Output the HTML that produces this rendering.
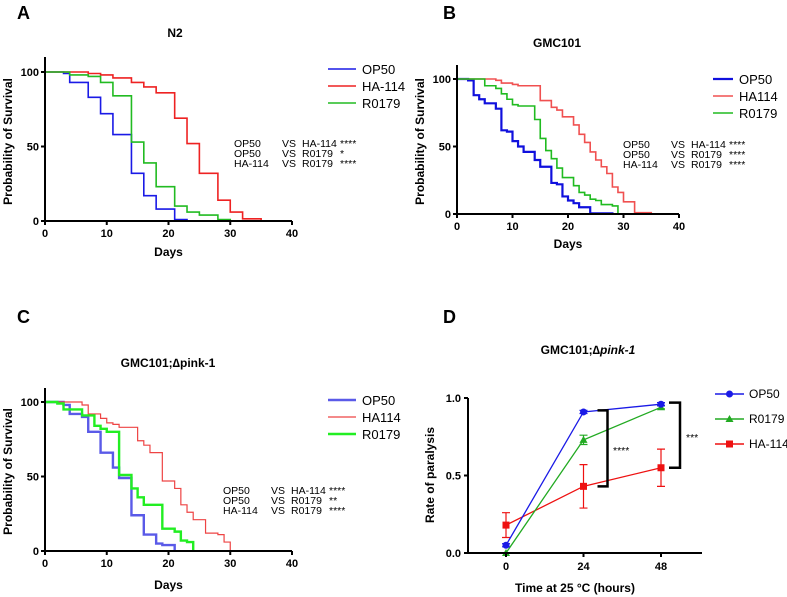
<!DOCTYPE html>
<html><head><meta charset="utf-8">
<style>
html,body{margin:0;padding:0;background:#fff;}
svg{display:block;font-family:"Liberation Sans",Arial,sans-serif;}
.tick{font-size:11px;font-weight:bold;}
.ttl{font-size:12px;font-weight:bold;}
.lbl{font-size:18px;font-weight:bold;}
.leg{font-size:13px;}
.legd{font-size:12px;}
.st{font-size:10.5px;}
</style></head>
<body>
<svg id="fig" width="787" height="597" viewBox="0 0 787 597"></svg>
<script>
// Panel A (N2)
const aOP50Days=[0,3,4,7,9,11,14,16,18,21,23];
const aOP50Surv=[100,99,93,83,72,58,32,17,8,1,0];
const aHADays=[0,7,9,11,14,16,18,21,23,25,28,30,32,35];
const aHASurv=[100,99,98,96,93,90,86,69,52,32,14,6,1.5,0];
const aRDays=[0,4,7,9,11,14,16,18,21,23,25,28,30];
const aRSurv=[100,98,97,93,84,53,39,23,10,6,4,1,0];
// Panel B (GMC101)
const bOP50Days=[0,2,3,4,5,7,8,9,10,11,12,14,15,17,18,19,20,21,22,24,28];
const bOP50Surv=[100,99,88,85,82,78,62,61,54,50,46,40,35,23,22,13,10,8,5,0.5,0];
const bHADays=[0,7,8,10,11,15,17,18,19,21,22,23,24,25,26,27,28,29,30,32,35];
const bHASurv=[100,99,97,96,95,84,79,77,72,66,59,53,46,40,35,30,20,16,9,1,0];
const bRDays=[0,5,7,8,9,10,11,14,15,16,17,18,19,21,22,23,24,25,26,28,29];
const bRSurv=[100,95,93,89,85,81,80,70,56,47,41,34,27,21,16,14,11,10,7,6,0];
// Panel C (GMC101;Δpink-1)
const cOP50Days=[0,3,4,6,7,9,11,12,14,16,18,19,21];
const cOP50Surv=[100,98,92,90,80,66,56,49,24,11,5,4,0];
const cHADays=[0,6,7,9,10,11,12,15,16,17,19,21,22,23,24,26,28,29,30];
const cHASurv=[100,98,92,89,86,85,83,74,71,66,47,42,31,26,21,12,11,6,0];
const cRDays=[0,2,3,6,8,9,10,12,14,15,16,19,21,22,23,24];
const cRSurv=[100,99,95,91,84,82,80,51,42,36,31,15,13,7,6,0];
const survTicksX=[0,10,20,30,40];
const survTicksY=[0,50,100];
// Panel D (paralysis)
const dTimes=[0,24,48];
const dOP50=[0.05,0.91,0.96];
const dOP50Err=[0.01,0.01,0.01];
const dR0179=[0.0,0.73,0.94];
const dR0179Err=[0,0.03,0.01];
const dHA=[0.18,0.43,0.55];
const dHAErr=[0.08,0.14,0.12];
const dTicksY=[0,0.5,1.0];
const dTickLabelsY=["0.0","0.5","1.0"];

const NS="http://www.w3.org/2000/svg";
const svg=document.getElementById('fig');
function el(tag,attrs,parent,text){const e=document.createElementNS(NS,tag);for(const k in attrs)e.setAttribute(k,attrs[k]);if(text!==undefined)e.textContent=text;(parent||svg).appendChild(e);return e;}

function survPanel(p){
  const g=el('g',{});
  
  
  const sx=d=>p.x0+(d/40)*(p.x40-p.x0);
  const sy=v=>p.y0+(v/100)*(p.y100-p.y0);
  const t1=el('text',{x:p.letterX,y:p.letterY,class:'lbl'},g,p.letter);
  
  const t2=el('text',{x:p.titleX,y:p.titleY,class:'ttl','text-anchor':'middle'},g,p.title);
  
  p.series.forEach(s=>{
    let d='M'+sx(0)+','+sy(s.surv[0]);
    for(let i=1;i<s.days.length;i++){d+=' H'+sx(s.days[i])+' V'+sy(s.surv[i]);}
    const path=el('path',{d:d,fill:'none',stroke:s.color,'stroke-width':s.w||1.6},g);
    
    
  });
  const ax=el('path',{d:`M${p.x0},${p.yTop} V${p.y0} H${p.x40}`,fill:'none',stroke:'#000','stroke-width':2},g);
  
  survTicksX.forEach(t=>{
    el('line',{x1:sx(t),x2:sx(t),y1:p.y0,y2:p.y0+4,stroke:'#000','stroke-width':2},g);
    const tt=el('text',{x:sx(t),y:p.y0+16,class:'tick','text-anchor':'middle'},g,String(t));
    
  });
  survTicksY.forEach(t=>{
    el('line',{x1:p.x0-4,x2:p.x0,y1:sy(t),y2:sy(t),stroke:'#000','stroke-width':2},g);
    const tt=el('text',{x:p.x0-6,y:sy(t)+4,class:'tick','text-anchor':'end'},g,String(t));
    
  });
  const xl=el('text',{x:(p.x0+p.x40)/2,y:p.daysY,class:'ttl','text-anchor':'middle'},g,'Days');
  
  const cy=(p.y0+p.y100)/2-5;
  const yl=el('text',{x:p.ytX,y:cy,class:'ttl','text-anchor':'middle',transform:`rotate(-90 ${p.ytX} ${cy})`},g,'Probability of Survival');
  
  p.series.forEach((s,i)=>{
    const ly=p.legY+i*p.legDy;
    const lg=el('g',{},g);
    
    
    el('line',{x1:p.legX,x2:p.legX+p.legW,y1:ly,y2:ly,stroke:s.color,'stroke-width':s.w||1.6},lg);
    el('text',{x:p.legX+p.legW+6,y:ly+5,class:'leg'},lg,s.label);
  });
  const sg=el('g',{},g);
  
  p.stats.forEach((r,i)=>{
    const y=p.stY+i*10;
    el('text',{x:p.stX,y:y,class:'st'},sg,r[0]);
    el('text',{x:p.stX+48,y:y,class:'st'},sg,'VS');
    el('text',{x:p.stX+68,y:y,class:'st'},sg,r[1]);
    el('text',{x:p.stX+106,y:y,class:'st'},sg,r[2]);
  });
}

survPanel({id:'a',letter:'A',letterX:17,letterY:19,title:'N2',titleX:175,titleY:37,
  x0:45,x40:292,y0:221,y100:72,yTop:57,daysY:256,ytX:12,
  legX:328,legW:28,legY:69,legDy:17,stX:234,stY:147,
  stats:[['OP50','HA-114','****'],['OP50','R0179','*'],['HA-114','R0179','****']],
  series:[{name:'OP50',label:'OP50',color:'#1a1ae6',days:aOP50Days,surv:aOP50Surv},
          {name:'HA114',label:' HA-114',color:'#ee2222',days:aHADays,surv:aHASurv},
          {name:'R0179',label:' R0179',color:'#22bb22',days:aRDays,surv:aRSurv}]});
survPanel({id:'b',letter:'B',letterX:443,letterY:19,title:'GMC101',titleX:557,titleY:47,
  x0:457,x40:679,y0:214,y100:79,yTop:65,daysY:248,ytX:424,
  legX:713,legW:20,legY:79,legDy:17,stX:623,stY:148,
  stats:[['OP50','HA-114','****'],['OP50','R0179','****'],['HA-114','R0179','****']],
  series:[{name:'OP50',label:'OP50',color:'#1010dd',w:2.2,days:bOP50Days,surv:bOP50Surv},
          {name:'HA114',label:'HA114',color:'#f05050',days:bHADays,surv:bHASurv},
          {name:'R0179',label:'R0179',color:'#20bb20',days:bRDays,surv:bRSurv}]});
survPanel({id:'c',letter:'C',letterX:17,letterY:323,title:'GMC101;\u2206pink-1',titleX:168,titleY:367,
  x0:45,x40:292,y0:551,y100:402,yTop:388,daysY:589,ytX:12,
  legX:328,legW:28,legY:400,legDy:17,stX:223,stY:494,
  stats:[['OP50','HA-114','****'],['OP50','R0179','**'],['HA-114','R0179','****']],
  series:[{name:'OP50',label:'OP50',color:'#5a5ae8',w:2.4,days:cOP50Days,surv:cOP50Surv},
          {name:'HA114',label:'HA114',color:'#ee4444',w:1.2,days:cHADays,surv:cHASurv},
          {name:'R0179',label:'R0179',color:'#22ee22',w:2.4,days:cRDays,surv:cRSurv}]});

// Panel D
(function(){
  const g=el('g',{});
  
  
  const X0=506,X48=661,Y0=553,Y1=398,AX=468,AXR=702;
  const sx=t=>X0+(t/48)*(X48-X0);
  const sy=v=>Y0+v*(Y1-Y0);
  const L=el('text',{x:443,y:323,class:'lbl'},g,'D');
  
  const T=el('text',{x:588,y:354,class:'ttl','text-anchor':'middle'},g);
  
  el('tspan',{},T,'GMC101;');
  el('tspan',{'font-style':'italic'},T,'\u2206pink-1');
  const series=[{name:'op50',color:'#1a1ae6',v:dOP50,e:dOP50Err,m:'circle'},
                {name:'r0179',color:'#22aa22',v:dR0179,e:dR0179Err,m:'tri'},
                {name:'ha-114',color:'#ee1111',v:dHA,e:dHAErr,m:'sq'}];
  function marker(m,x,y,c,parent){
    if(m==='circle')return el('circle',{cx:x,cy:y,r:3.5,fill:c},parent);
    if(m==='tri')return el('path',{d:`M${x},${y-4} L${x+4},${y+3} L${x-4},${y+3}Z`,fill:c},parent);
    return el('rect',{x:x-3.5,y:y-3.5,width:7,height:7,fill:c},parent);
  }
  [series[2],series[1],series[0]].forEach(s=>{
    const sg=el('g',{},g);
    
    
    let d='';
    dTimes.forEach((t,i)=>{d+=(i?' L':'M')+sx(t)+','+sy(s.v[i]);});
    el('path',{d:d,fill:'none',stroke:s.color,'stroke-width':1.3},sg);
    dTimes.forEach((t,i)=>{
      if(s.e[i]>0){
        const x=sx(t),ya=sy(s.v[i]+s.e[i]),yb=sy(Math.max(0,s.v[i]-s.e[i]));
        el('path',{d:`M${x},${ya} V${yb} M${x-4},${ya} H${x+4} M${x-4},${yb} H${x+4}`,stroke:s.color,'stroke-width':1.2,fill:'none'},sg);
      }
      const mk=marker(s.m,sx(t),sy(s.v[i]),s.color,sg);
      
      
    });
  });
  const ax=el('path',{d:`M${AX},${Y1} V${Y0} H${AXR}`,fill:'none',stroke:'#000','stroke-width':2},g);
  
  dTimes.forEach(t=>{
    el('line',{x1:sx(t),x2:sx(t),y1:Y0,y2:Y0+4,stroke:'#000','stroke-width':2},g);
    const tt=el('text',{x:sx(t),y:Y0+17,class:'tick','text-anchor':'middle'},g,String(t));
    
  });
  dTicksY.forEach((t,i)=>{
    el('line',{x1:AX-4,x2:AX,y1:sy(t),y2:sy(t),stroke:'#000','stroke-width':2},g);
    const tt=el('text',{x:AX-7,y:sy(t)+4,class:'tick','text-anchor':'end'},g,dTickLabelsY[i]);
    
  });
  const xl=el('text',{x:575,y:592,class:'ttl','text-anchor':'middle'},g,'Time at 25 \u00B0C (hours)');
  
  const yl=el('text',{x:434,y:475,class:'ttl','text-anchor':'middle',transform:'rotate(-90 434 475)'},g,'Rate of paralysis');
  
  const b1=el('path',{d:`M${sx(24)+14},${sy(dOP50[1]+0.01)} H${sx(24)+24} V${sy(dHA[1])} H${sx(24)+14}`,fill:'none',stroke:'#000','stroke-width':2.5},g);
  
  const s1=el('text',{x:613,y:454,class:'st'},g,'****');
  
  const b2=el('path',{d:`M${sx(48)+8},${sy(dOP50[2]+0.01)} H${sx(48)+19} V${sy(dHA[2])} H${sx(48)+8}`,fill:'none',stroke:'#000','stroke-width':2.5},g);
  
  const s2=el('text',{x:686,y:441,class:'st'},g,'***');
  
  const labels=['OP50','R0179','HA-114'];
  series.forEach((s,i)=>{
    const ly=394+i*25;
    const lg=el('g',{},g);
    
    
    el('line',{x1:715,x2:744,y1:ly,y2:ly,stroke:s.color,'stroke-width':1.5},lg);
    marker(s.m,729.5,ly,s.color,lg);
    el('text',{x:749,y:ly+4,class:'legd'},lg,labels[i]);
  });
})();
</script>
</body></html>
